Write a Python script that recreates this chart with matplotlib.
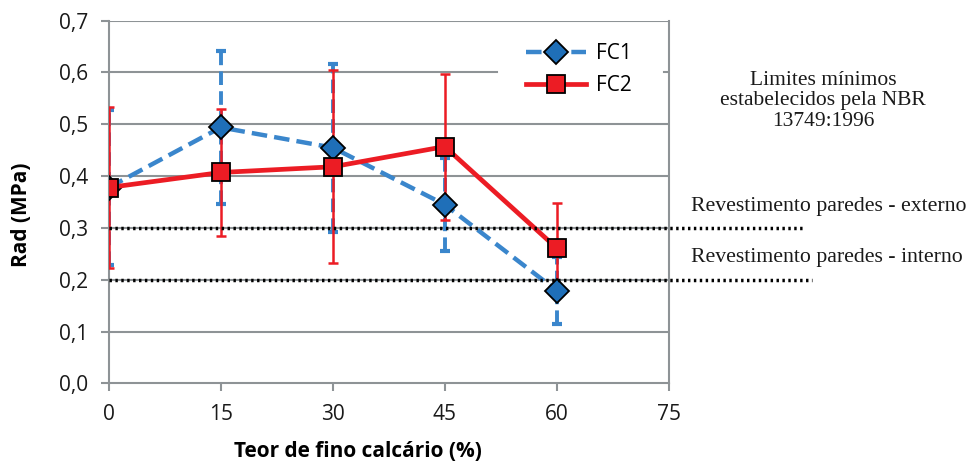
import numpy as np
import matplotlib.pyplot as plt

# Data
teor = [0, 15, 30, 45, 60]
fc1 = [0.378, 0.494, 0.455, 0.345, 0.179]
fc1_err = [0.150, 0.148, 0.162, 0.090, 0.064]
fc2 = [0.378, 0.407, 0.418, 0.457, 0.261]
fc2_err = [0.155, 0.122, 0.186, 0.141, 0.088]
limites = [0.3, 0.2]
limites_txt = ['Revestimento paredes - externo', 'Revestimento paredes - interno']
xticks = [0, 15, 30, 45, 60, 75]
yticks = [0.0, 0.1, 0.2, 0.3, 0.4, 0.5, 0.6, 0.7]

blue_line = '#3a86cc'
blue_fill = '#1f6fb8'
red = '#ec1c24'
grid_c = '#8e9396'
sans = ['Open Sans', 'DejaVu Sans']
serif = ['Liberation Serif', 'DejaVu Serif']
dash = (0, (3.5, 1.6))

fig = plt.figure(figsize=(9.7, 4.63), dpi=100)
ax = fig.add_axes([0.1121, 0.1721, 0.5773, 0.7832])
ax.set_xlim(0, 75)
ax.set_ylim(0, 0.7)

# grid (0.6 line is hidden behind the legend area in the original)
for v in yticks[1:]:
    if v == 0.6:
        ax.axhline(v, xmax=0.693, color=grid_c, lw=1.5, zorder=0)
        ax.axhline(v, xmin=0.992, color=grid_c, lw=1.5, zorder=0)
    else:
        ax.axhline(v, color=grid_c, lw=1.5, zorder=0)

# error bars
eb1 = ax.errorbar(teor, fc1, yerr=fc1_err, fmt='none', ecolor=blue_line,
                  elinewidth=2.8, capsize=3.5, capthick=3, zorder=2)
eb1[2][0].set_linestyle(dash)
ax.errorbar(teor, fc2, yerr=fc2_err, fmt='none', ecolor=red,
            elinewidth=1.8, capsize=3.5, capthick=1.8, zorder=3)

# series
ax.plot(teor, fc1, color=blue_line, lw=3.2, ls=dash, marker='D',
        ms=12, mfc=blue_fill, mec='black', mew=1.3, label='FC1', zorder=4)
ax.plot(teor, fc2, color=red, lw=3.4, marker='s', ms=13, mfc=red,
        mec='black', mew=1.3, label='FC2', zorder=5)

# reference limits (extend outside the plot area)
for v, txt, xe in zip(limites, limites_txt, [93.3, 94.2]):
    ax.plot([0, xe], [v, v], color='black', lw=2.5, ls=(0, (0.7, 1.0)),
            clip_on=False, zorder=6)
    ax.text(78.0, v + 0.042, txt, fontsize=15.7, family=serif,
            ha='left', va='center', color='#1a1a1a')

ax.text(95.7, 0.545, 'Limites mínimos\nestabelecidos pela NBR\n13749:1996',
        fontsize=15.5, family=serif, ha='center', va='center',
        linespacing=1.08, color='#1a1a1a')

# spines and ticks
ax.spines['top'].set_visible(False)
for s in ['left', 'right', 'bottom']:
    ax.spines[s].set_color(grid_c)
    ax.spines[s].set_linewidth(1.5)
ax.spines['bottom'].set_zorder(0)

ax.set_xticks(xticks)
ax.set_yticks(yticks)
ax.set_yticklabels([f'{v:.1f}'.replace('.', ',') for v in yticks])
ax.tick_params(axis='both', direction='out', length=6, width=1.5,
               color=grid_c, labelsize=15, labelcolor='#1a1a1a')
ax.tick_params(axis='y', pad=9)
ax.tick_params(axis='x', pad=9)
for lab in ax.get_xticklabels() + ax.get_yticklabels():
    lab.set_family(sans)

ax.set_ylabel('Rad (MPa)', fontsize=15, fontweight='bold', family=sans)
ax.yaxis.set_label_coords(-0.137, 0.465)
ax.set_xlabel('Teor de fino calcário (%)', fontsize=15, fontweight='bold',
              family=sans, va='center')
ax.xaxis.set_label_coords(0.445, -0.189)

leg = ax.legend(loc='center left', bbox_to_anchor=(0.745, 0.865),
                frameon=False, prop={'family': sans, 'size': 15},
                handlelength=2.9, handletextpad=0.45, borderpad=0,
                labelspacing=0.55, borderaxespad=0)
leg.set_zorder(7)

fig.savefig('out.png', dpi=100)
